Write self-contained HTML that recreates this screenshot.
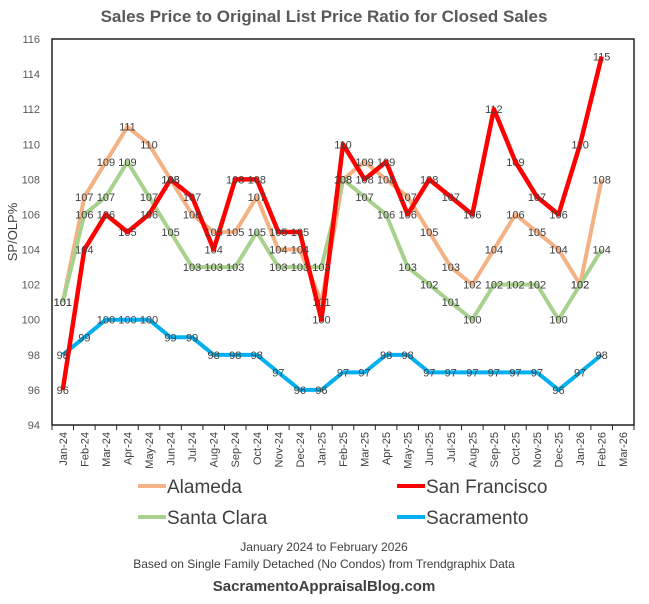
<!DOCTYPE html>
<html><head><meta charset="utf-8"><style>
body{margin:0;background:#fff;}
svg text{font-family:"Liberation Sans",sans-serif;}
</style></head><body>
<svg id="c" width="649" height="599" viewBox="0 0 649 599" xmlns="http://www.w3.org/2000/svg">
<rect width="649" height="599" fill="#fff"/>
<text x="324" y="22" text-anchor="middle" font-size="17" font-weight="bold" fill="#595959">Sales Price to Original List Price Ratio for Closed Sales</text>
<text transform="translate(17,232) rotate(-90)" text-anchor="middle" font-size="13" fill="#404040">SP/OLP%</text>
<g id="grid"></g>
<rect x="52" y="39" width="582" height="386" fill="none" stroke="#222" stroke-width="1.5"/>
<g id="series"></g>
<g id="labels"></g>
<g>
<g><line x1="138" y1="486" x2="166" y2="486" stroke="#F4B183" stroke-width="4"/><text x="167" y="493" font-size="19" fill="#404040">Alameda</text></g>
<g><line x1="397" y1="486" x2="425" y2="486" stroke="#FF0000" stroke-width="4"/><text x="426" y="493" font-size="19" fill="#404040">San Francisco</text></g>
<g><line x1="138" y1="517" x2="166" y2="517" stroke="#A9D18E" stroke-width="4"/><text x="167" y="524" font-size="19" fill="#404040">Santa Clara</text></g>
<g><line x1="397" y1="517" x2="425" y2="517" stroke="#00B0F0" stroke-width="4"/><text x="426" y="524" font-size="19" fill="#404040">Sacramento</text></g>
</g>
<text x="324" y="551" text-anchor="middle" font-size="12" fill="#404040">January 2024 to February 2026</text>
<text x="324" y="568" text-anchor="middle" font-size="12" fill="#404040">Based on Single Family Detached (No Condos) from Trendgraphix Data</text>
<text x="324" y="591" text-anchor="middle" font-size="15" font-weight="bold" fill="#404040">SacramentoAppraisalBlog.com</text>
</svg>
<script>
const categories=["Jan-24","Feb-24","Mar-24","Apr-24","May-24","Jun-24","Jul-24","Aug-24","Sep-24","Oct-24","Nov-24","Dec-24","Jan-25","Feb-25","Mar-25","Apr-25","May-25","Jun-25","Jul-25","Aug-25","Sep-25","Oct-25","Nov-25","Dec-25","Jan-26","Feb-26","Mar-26"];
const yTicks=[94,96,98,100,102,104,106,108,110,112,114,116];
const alameda=[101,107,109,111,110,108,106,105,105,107,104,104,101,108,109,108,107,105,103,102,104,106,105,104,102,108];
const sanFrancisco=[96,104,106,105,106,108,107,104,108,108,105,105,100,110,108,109,106,108,107,106,112,109,107,106,110,115];
const santaClara=[101,106,107,109,107,105,103,103,103,105,103,103,103,108,107,106,103,102,101,100,102,102,102,100,102,104];
const sacramento=[98,99,100,100,100,99,99,98,98,98,97,96,96,97,97,98,98,97,97,97,97,97,97,96,97,98];
const NS="http://www.w3.org/2000/svg";
const X0=52,X1=634,Y0=425,Y1=39,YMIN=94,YMAX=116;
const slot=(X1-X0)/categories.length;
function xs(i){return X0+(i+0.5)*slot;}
function ys(v){return Y0-(v-YMIN)/(YMAX-YMIN)*(Y0-Y1);}
function mk(t,a,p){const e=document.createElementNS(NS,t);for(const k in a)e.setAttribute(k,a[k]);p.appendChild(e);return e;}
const grid=document.getElementById('grid');
yTicks.forEach(v=>{const t=mk('text',{x:40,y:ys(v)+4,'text-anchor':'end','font-size':11,fill:'#595959'},grid);t.textContent=v;

});
categories.forEach((c,i)=>{const l=mk('line',{x1:X0+i*slot,x2:X0+i*slot,y1:Y0,y2:Y0+5,stroke:'#222'},grid);


const t=mk('text',{transform:`translate(${xs(i)+4},${Y0+7}) rotate(-90)`,'text-anchor':'end','font-size':11,fill:'#404040'},grid);t.textContent=c;

});
mk('line',{x1:X1,x2:X1,y1:Y0,y2:Y0+5,stroke:'#222'},grid);
const S=document.getElementById('series'),L=document.getElementById('labels');
const defs=[["alameda",alameda,"#F4B183"],["santa-clara",santaClara,"#A9D18E"],["sacramento",sacramento,"#00B0F0"],["san-francisco",sanFrancisco,"#FF0000"]];
defs.forEach(([n,d,c])=>{
const p=mk('polyline',{points:d.map((v,i)=>xs(i)+','+ys(v)).join(' '),fill:'none',stroke:c,'stroke-width':n==='san-francisco'?4.5:4,'stroke-linejoin':'round'},S);


d.forEach((v,i)=>{const t=mk('text',{x:xs(i),y:ys(v)+4,'text-anchor':'middle','font-size':11,fill:'#404040'},L);t.textContent=v;

});
});
</script>
</body></html>
